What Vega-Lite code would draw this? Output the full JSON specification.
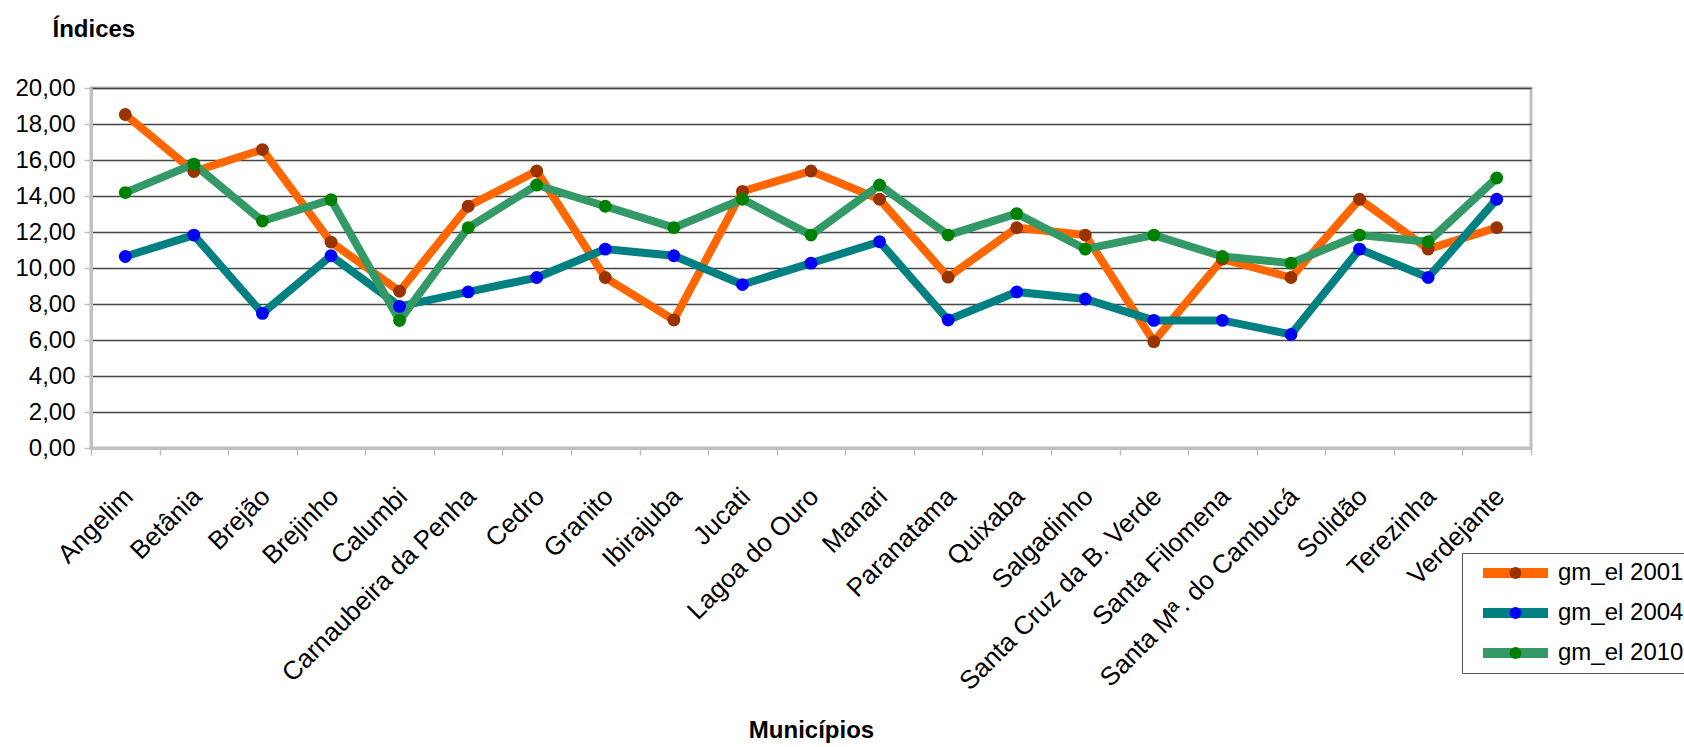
{
  "$schema": "https://vega.github.io/schema/vega-lite/v6.json",
  "width": 1440,
  "height": 360,
  "autosize": {"type": "none"},
  "padding": {"left": 91, "top": 88, "right": 153, "bottom": 299},
  "background": "white",
  "config": {
    "font": "Liberation Sans",
    "view": {"stroke": "#c0c0c0", "strokeWidth": 3}
  },
  "data": {
    "values": [
      {"municipio": "Angelim", "serie": "gm_el 2001", "valor": 18.53},
      {"municipio": "Betânia", "serie": "gm_el 2001", "valor": 15.36},
      {"municipio": "Brejão", "serie": "gm_el 2001", "valor": 16.58},
      {"municipio": "Brejinho", "serie": "gm_el 2001", "valor": 11.44},
      {"municipio": "Calumbi", "serie": "gm_el 2001", "valor": 8.71},
      {"municipio": "Carnaubeira da Penha", "serie": "gm_el 2001", "valor": 13.43},
      {"municipio": "Cedro", "serie": "gm_el 2001", "valor": 15.39},
      {"municipio": "Granito", "serie": "gm_el 2001", "valor": 9.47},
      {"municipio": "Ibirajuba", "serie": "gm_el 2001", "valor": 7.11},
      {"municipio": "Jucati", "serie": "gm_el 2001", "valor": 14.26},
      {"municipio": "Lagoa do Ouro", "serie": "gm_el 2001", "valor": 15.39},
      {"municipio": "Manari", "serie": "gm_el 2001", "valor": 13.82},
      {"municipio": "Paranatama", "serie": "gm_el 2001", "valor": 9.49},
      {"municipio": "Quixaba", "serie": "gm_el 2001", "valor": 12.24},
      {"municipio": "Salgadinho", "serie": "gm_el 2001", "valor": 11.83},
      {"municipio": "Santa Cruz da B. Verde", "serie": "gm_el 2001", "valor": 5.91},
      {"municipio": "Santa Filomena", "serie": "gm_el 2001", "valor": 10.49},
      {"municipio": "Santa Mª. do Cambucá", "serie": "gm_el 2001", "valor": 9.47},
      {"municipio": "Solidão", "serie": "gm_el 2001", "valor": 13.82},
      {"municipio": "Terezinha", "serie": "gm_el 2001", "valor": 11.05},
      {"municipio": "Verdejante", "serie": "gm_el 2001", "valor": 12.24},
      {"municipio": "Angelim", "serie": "gm_el 2004", "valor": 10.64},
      {"municipio": "Betânia", "serie": "gm_el 2004", "valor": 11.83},
      {"municipio": "Brejão", "serie": "gm_el 2004", "valor": 7.48},
      {"municipio": "Brejinho", "serie": "gm_el 2004", "valor": 10.68},
      {"municipio": "Calumbi", "serie": "gm_el 2004", "valor": 7.87},
      {"municipio": "Carnaubeira da Penha", "serie": "gm_el 2004", "valor": 8.67},
      {"municipio": "Cedro", "serie": "gm_el 2004", "valor": 9.47},
      {"municipio": "Granito", "serie": "gm_el 2004", "valor": 11.05},
      {"municipio": "Ibirajuba", "serie": "gm_el 2004", "valor": 10.68},
      {"municipio": "Jucati", "serie": "gm_el 2004", "valor": 9.08},
      {"municipio": "Lagoa do Ouro", "serie": "gm_el 2004", "valor": 10.27},
      {"municipio": "Manari", "serie": "gm_el 2004", "valor": 11.46},
      {"municipio": "Paranatama", "serie": "gm_el 2004", "valor": 7.11},
      {"municipio": "Quixaba", "serie": "gm_el 2004", "valor": 8.67},
      {"municipio": "Salgadinho", "serie": "gm_el 2004", "valor": 8.28},
      {"municipio": "Santa Cruz da B. Verde", "serie": "gm_el 2004", "valor": 7.09},
      {"municipio": "Santa Filomena", "serie": "gm_el 2004", "valor": 7.09},
      {"municipio": "Santa Mª. do Cambucá", "serie": "gm_el 2004", "valor": 6.31},
      {"municipio": "Solidão", "serie": "gm_el 2004", "valor": 11.05},
      {"municipio": "Terezinha", "serie": "gm_el 2004", "valor": 9.47},
      {"municipio": "Verdejante", "serie": "gm_el 2004", "valor": 13.82},
      {"municipio": "Angelim", "serie": "gm_el 2010", "valor": 14.19},
      {"municipio": "Betânia", "serie": "gm_el 2010", "valor": 15.77},
      {"municipio": "Brejão", "serie": "gm_el 2010", "valor": 12.61},
      {"municipio": "Brejinho", "serie": "gm_el 2010", "valor": 13.8},
      {"municipio": "Calumbi", "serie": "gm_el 2010", "valor": 7.09},
      {"municipio": "Carnaubeira da Penha", "serie": "gm_el 2010", "valor": 12.24},
      {"municipio": "Cedro", "serie": "gm_el 2010", "valor": 14.61},
      {"municipio": "Granito", "serie": "gm_el 2010", "valor": 13.43},
      {"municipio": "Ibirajuba", "serie": "gm_el 2010", "valor": 12.24},
      {"municipio": "Jucati", "serie": "gm_el 2010", "valor": 13.82},
      {"municipio": "Lagoa do Ouro", "serie": "gm_el 2010", "valor": 11.83},
      {"municipio": "Manari", "serie": "gm_el 2010", "valor": 14.61},
      {"municipio": "Paranatama", "serie": "gm_el 2010", "valor": 11.83},
      {"municipio": "Quixaba", "serie": "gm_el 2010", "valor": 13.02},
      {"municipio": "Salgadinho", "serie": "gm_el 2010", "valor": 11.05},
      {"municipio": "Santa Cruz da B. Verde", "serie": "gm_el 2010", "valor": 11.83},
      {"municipio": "Santa Filomena", "serie": "gm_el 2010", "valor": 10.64},
      {"municipio": "Santa Mª. do Cambucá", "serie": "gm_el 2010", "valor": 10.27},
      {"municipio": "Solidão", "serie": "gm_el 2010", "valor": 11.83},
      {"municipio": "Terezinha", "serie": "gm_el 2010", "valor": 11.46},
      {"municipio": "Verdejante", "serie": "gm_el 2010", "valor": 15.0}
    ]
  },
  "encoding": {
    "x": {
      "field": "municipio",
      "type": "nominal",
      "sort": null,
      "scale": {"type": "band", "paddingInner": 0, "paddingOuter": 0},
      "axis": {
        "title": "Municípios",
        "titleFontSize": 24,
        "titleFontWeight": "bold",
        "titleColor": "black",
        "titleY": 289,
        "titleBaseline": "alphabetic",
        "labelAngle": -45,
        "labelFontSize": 26,
        "labelColor": "black",
        "labelPadding": 28,
        "labelOffset": -6,
        "labelLimit": 400,
        "labelOverlap": false,
        "tickBand": "extent",
        "tickColor": "#c0c0c0",
        "tickSize": 7,
        "tickWidth": 1.5,
        "domainColor": "#c0c0c0",
        "domainWidth": 3,
        "grid": false
      }
    },
    "y": {
      "field": "valor",
      "type": "quantitative",
      "scale": {"domain": [0, 20], "nice": false},
      "axis": {
        "title": "Índices",
        "titleAngle": 0,
        "titleAlign": "left",
        "titleBaseline": "alphabetic",
        "titleX": -39,
        "titleY": -52,
        "titleFontSize": 24,
        "titleFontWeight": "bold",
        "titleColor": "black",
        "values": [0, 2, 4, 6, 8, 10, 12, 14, 16, 18, 20],
        "labelExpr": "replace(format(datum.value, '.2f'), '.', ',')",
        "labelFontSize": 24,
        "labelColor": "black",
        "labelPadding": 9,
        "tickColor": "#c0c0c0",
        "tickSize": 7,
        "tickWidth": 1.5,
        "domainColor": "#c0c0c0",
        "domainWidth": 3,
        "grid": true,
        "gridColor": "#444444",
        "gridWidth": 1.3
      }
    }
  },
  "layer": [
    {
      "mark": {"type": "line", "strokeWidth": 8},
      "encoding": {
        "stroke": {
          "field": "serie",
          "type": "nominal",
          "scale": {"range": ["#ff6600", "#008080", "#339966"]},
          "legend": {
            "title": null,
            "orient": "none",
            "legendX": 1371,
            "legendY": 465,
            "symbolType": "stroke",
            "symbolSize": 4225,
            "symbolStrokeWidth": 10,
            "symbolOffset": 8,
            "labelOffset": 5,
            "labelFontSize": 24,
            "labelColor": "black",
            "padding": 8,
            "rowPadding": 16,
            "strokeColor": "#555555",
            "clipHeight": 24
          }
        }
      }
    },
    {
      "mark": {"type": "circle", "size": 165, "opacity": 1},
      "encoding": {
        "fill": {
          "field": "serie",
          "type": "nominal",
          "scale": {"domain": ["gm_el 2001", "gm_el 2004", "gm_el 2010"], "range": ["#993300", "#0000ff", "#008000"]},
          "legend": {
            "title": null,
            "orient": "none",
            "legendX": 1371,
            "legendY": 465,
            "symbolType": "circle",
            "symbolSize": 140,
            "symbolStrokeWidth": 0,
            "symbolOffset": 33.5,
            "labelExpr": "''",
            "labelFontSize": 24,
            "padding": 8,
            "rowPadding": 16,
            "clipHeight": 24,
            "zindex": 1
          }
        }
      }
    }
  ]
}
